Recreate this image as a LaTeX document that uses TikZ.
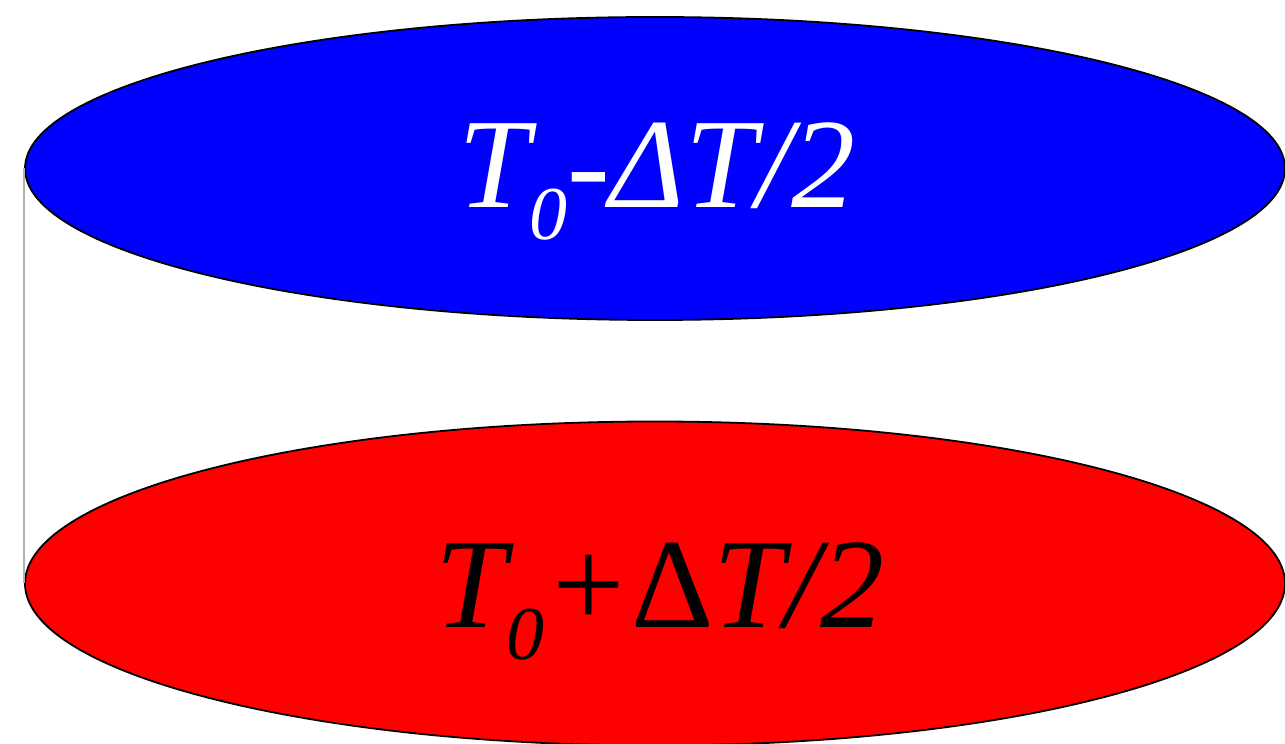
\documentclass[tikz,border=0pt]{standalone}
\usepackage{fontspec}
\setmainfont{Liberation Serif}
\usetikzlibrary{shapes.geometric}

\begin{document}
\begin{tikzpicture}[x=0.5pt,y=0.5pt,line width=0.9pt,
  plate/.style={ellipse,draw=black,inner sep=0pt,minimum width=630pt},
  temp/.style={anchor=base,inner sep=0pt,font=\fontsize{64pt}{70pt}\selectfont\itshape}]
  \useasboundingbox (0,0) rectangle (1285,744);
  % the two plates
  \node[plate,fill=blue,minimum height=151.5pt] (top) at (655,575.5) {};
  \node[plate,fill=red,minimum height=162pt] (bot) at (655,160.5) {};
  \draw[gray!60,line width=1.3pt] (top.west) -- (bot.west);
  % temperatures
  \node[temp,text=white] (ttop) at (657,536)
    {T\raisebox{-16pt}{\fontsize{38pt}{40pt}\selectfont 0}-ΔT/2};
  \node[temp,text=black] (tbot) at (660,116)
    {T\raisebox{-16pt}{\fontsize{38pt}{40pt}\selectfont 0}+{\upshape Δ}T/2};
\end{tikzpicture}
\end{document}
